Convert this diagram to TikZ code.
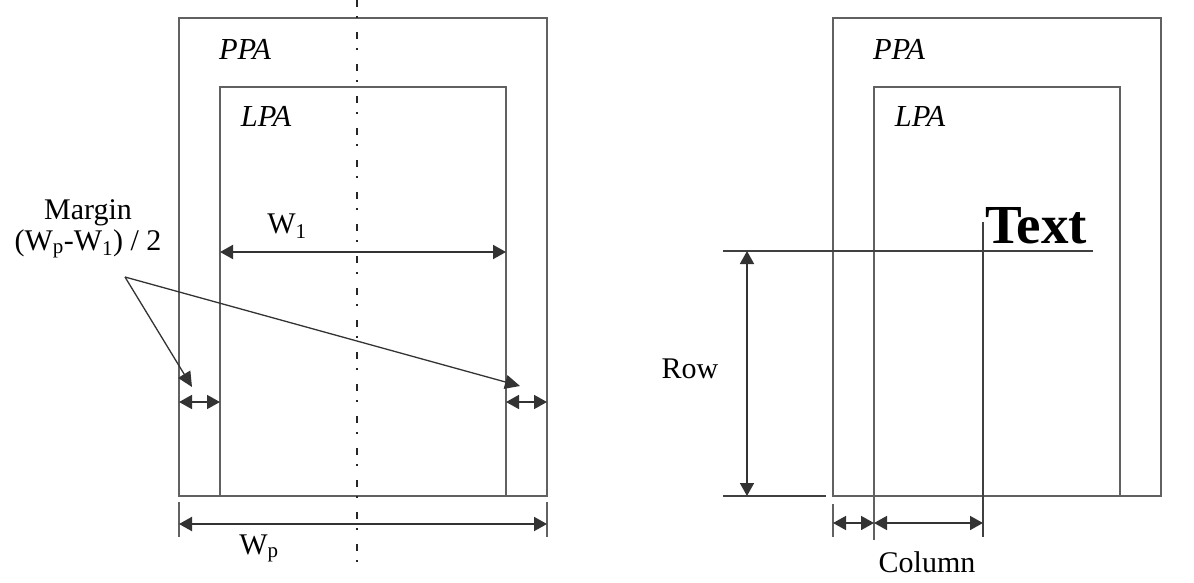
\documentclass[tikz,border=0pt]{standalone}
\usepackage{fontspec}
\setmainfont{Liberation Serif}
\usetikzlibrary{arrows.meta}
\begin{document}
\begin{tikzpicture}[x=1pt,y=-1pt,
  frame/.style={draw=black!62,line width=1.4pt},
  dimline/.style={draw=black!80,line width=2pt,{Triangle[length=13pt,width=14pt]}-{Triangle[length=13pt,width=14pt]}},
  smalldim/.style={draw=black!80,line width=1.6pt,{Triangle[length=13pt,width=14pt]}-{Triangle[length=13pt,width=14pt]}},
  leader/.style={draw=black!80,line width=1.3pt,-{Triangle[length=15pt,width=14pt]}},
  refline/.style={draw=black!75,line width=1.4pt},
  tick/.style={draw=black!62,line width=1.2pt},
  axis/.style={draw=black!85,line width=1.5pt,dash pattern=on 7pt off 9pt on 1.5pt off 14.5pt},
  lbl/.style={inner sep=0pt,anchor=base,font=\fontsize{30}{35}\selectfont},
  ital/.style={lbl,font=\fontsize{30.5}{35}\selectfont\itshape}]
\useasboundingbox (0,0) rectangle (1194,582);
% ---------------- left diagram ----------------
\draw[frame] (179,18) rectangle (547,496);
\draw[frame] (220,87) rectangle (506,496);
\draw[axis] (357,0) -- (357,566);
\node[ital] (ppaL) at (245,59) {PPA};
\node[ital] (lpaL) at (266,126) {LPA};
% W1
\coordinate (w1a) at (220,252);
\coordinate (w1b) at (506,252);
\draw[dimline] (w1a) -- (w1b);
\node[lbl] (w1) at (287,233) {W\textsubscript{1}};
% Wp
\coordinate (tpl1) at (179,502); \coordinate (tpl2) at (179,537);
\coordinate (tpr1) at (547,502); \coordinate (tpr2) at (547,537);
\draw[tick] (tpl1) -- (tpl2);
\draw[tick] (tpr1) -- (tpr2);
\coordinate (wpa) at (179,524);
\coordinate (wpb) at (547,524);
\draw[dimline] (wpa) -- (wpb);
\node[lbl] (wp) at (259,554) {W\textsubscript{p}};
% margins
\coordinate (mla) at (179,402); \coordinate (mlb) at (220,402);
\coordinate (mra) at (506,402); \coordinate (mrb) at (547,402);
\draw[smalldim] (mla) -- (mlb);
\draw[smalldim] (mra) -- (mrb);
\node[lbl] (margin) at (88,219) {Margin};
\node[lbl] (formula) at (88,250) {(W\textsubscript{p}-W\textsubscript{1}) / 2};
\coordinate (ls) at (125,277);
\coordinate (lt1) at (192,387);
\coordinate (lt2) at (520,386);
\draw[leader] (ls) -- (lt1);
\draw[leader] (ls) -- (lt2);
% ---------------- right diagram ----------------
\draw[frame] (833,18) rectangle (1161,496);
\draw[frame] (874,87) rectangle (1120,496);
\node[ital] (ppaR) at (899,59) {PPA};
\node[ital] (lpaR) at (920,126) {LPA};
\node[inner sep=0pt,anchor=base west,font=\fontsize{55}{62}\selectfont\bfseries] (txt) at (985,243) {Text};
% reference lines
\coordinate (h1a) at (723,251); \coordinate (h1b) at (1093,251);
\draw[refline] (h1a) -- (h1b);
\coordinate (h2a) at (723,496); \coordinate (h2b) at (826,496);
\draw[refline] (h2a) -- (h2b);
\coordinate (v1a) at (983,222); \coordinate (v1b) at (983,537);
\draw[refline] (v1a) -- (v1b);
\coordinate (t874a) at (874,496); \coordinate (t874b) at (874,540);
\draw[tick] (t874a) -- (t874b);
\coordinate (t833a) at (833,504); \coordinate (t833b) at (833,537);
\draw[tick] (t833a) -- (t833b);
% Row
\coordinate (ra) at (747,251); \coordinate (rb) at (747,496);
\draw[smalldim] (ra) -- (rb);
\node[lbl] (row) at (690,378) {Row};
% Column
\coordinate (c1) at (833,523); \coordinate (c2) at (874,523); \coordinate (c3) at (983,523);
\draw[smalldim] (c1) -- (c2);
\draw[smalldim] (c2) -- (c3);
\node[lbl] (col) at (927,572) {Column};
\end{tikzpicture}
\end{document}
